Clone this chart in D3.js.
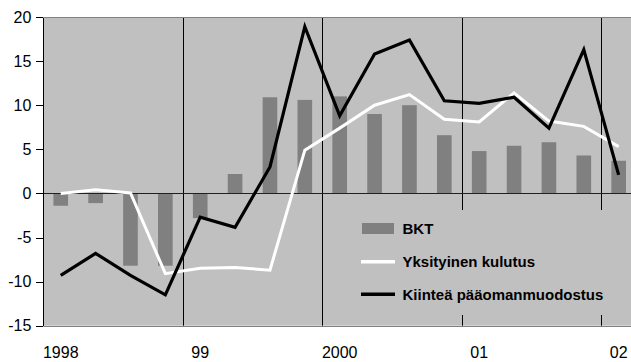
<!DOCTYPE html>
<html lang="fi">
    <head>
        <meta charset="utf-8">
        <script type="text/javascript" src="https://cdn.jsdelivr.net/npm/d3@7/dist/d3.min.js"></script>
        <style type="text/css">
        body{
          margin: 0;
          background: #ffffff;
        }
        svg{
          display: block;
          font-family: "Liberation Sans", Arial, sans-serif;
        }
        .axis path, .axis line{
          stroke: #000000;
          shape-rendering: crispEdges;
        }
        .axis text{
          font-size: 16px;
          fill: #000000;
        }
        .legend text{
          font-size: 15px;
          font-weight: bold;
        }
        </style>
    </head>
    <body>

        <script type="text/javascript">
          // Quarters 1998 Q1 - 2002 Q1
          var quarters = ["1998Q1", "1998Q2", "1998Q3", "1998Q4",
                          "1999Q1", "1999Q2", "1999Q3", "1999Q4",
                          "2000Q1", "2000Q2", "2000Q3", "2000Q4",
                          "2001Q1", "2001Q2", "2001Q3", "2001Q4",
                          "2002Q1"];

          // Year labels shown under the first quarter of each year
          var yearTicks = ["1998Q1", "1999Q1", "2000Q1", "2001Q1", "2002Q1"];
          var yearLabels = ["1998", "99", "2000", "01", "02"];

          // Series values (% change)
          var bkt = [-1.4, -1.1, -8.2, -8.2, -2.8, 2.2, 10.9, 10.6, 11.0, 9.0, 10.0, 6.6, 4.8, 5.4, 5.8, 4.3, 3.7];
          var kulutus = [0.0, 0.4, 0.05, -9.1, -8.5, -8.4, -8.7, 4.9, 7.4, 10.0, 11.2, 8.4, 8.1, 11.4, 8.2, 7.6, 5.3];
          var investoinnit = [-9.3, -6.8, -9.3, -11.5, -2.7, -3.85, 3.0, 18.9, 8.8, 15.8, 17.4, 10.5, 10.2, 10.9, 7.4, 16.3, 2.1];

          var yTicks = [-15, -10, -5, 0, 5, 10, 15, 20];
          var legendNames = ["BKT", "Yksityinen kulutus", "Kiinteä pääomanmuodostus"];

          // Size of the svg and the plot area
          var w = 631;
          var h = 362;
          var plotLeft = 43.3;
          var plotRight = 636.1;
          var plotTop = 17;
          var plotBottom = 325.7;

          var xScale = d3.scaleBand()
                         .domain(quarters)
                         .range([plotLeft, plotRight]);

          var yScale = d3.scaleLinear()
                         .domain([-15, 20])
                         .range([plotBottom, plotTop]);

          var svg = d3.select("body")
            .append("svg")
            .attr("width", w)
            .attr("height", h);

          // Gray plot background
          svg.append("rect")
             .attr("x", plotLeft)
             .attr("y", plotTop)
             .attr("width", plotRight - plotLeft)
             .attr("height", plotBottom - plotTop)
             .attr("fill", "#c0c0c0");

          // BKT bars
          var barWidth = xScale.bandwidth() * 0.42;
          svg.selectAll("rect.bar")
             .data(bkt)
             .enter()
             .append("rect")
             .attr("class", "bar")
             .attr("x", function(d, i) {
               return xScale(quarters[i]) + (xScale.bandwidth() - barWidth) / 2;
             })
             .attr("y", function(d) { return yScale(Math.max(d, 0)); })
             .attr("width", barWidth)
             .attr("height", function(d) { return Math.abs(yScale(d) - yScale(0)); })
             .attr("fill", "#808080");

          // Vertical lines at the start of every year
          svg.selectAll("line.year")
             .data(yearTicks.slice(1))
             .enter()
             .append("line")
             .attr("class", "year")
             .attr("x1", function(d) { return Math.round(xScale(d)) + 0.5; })
             .attr("x2", function(d) { return Math.round(xScale(d)) + 0.5; })
             .attr("y1", plotTop)
             .attr("y2", plotBottom)
             .attr("stroke", "#000000")
             .attr("stroke-width", 1);

          // Zero line
          svg.append("line")
             .attr("x1", plotLeft)
             .attr("x2", w)
             .attr("y1", Math.round(yScale(0)) + 0.5)
             .attr("y2", Math.round(yScale(0)) + 0.5)
             .attr("stroke", "#202020")
             .attr("stroke-width", 1);

          // Legend box covers the grid lines
          svg.append("rect")
             .attr("x", 335)
             .attr("y", 210)
             .attr("width", w - 335)
             .attr("height", 105)
             .attr("fill", "#c0c0c0");

          // Lines
          var line = d3.line()
            .x(function(d, i) { return xScale(quarters[i]) + xScale.bandwidth() / 2; })
            .y(function(d) { return yScale(d); });

          svg.append("path")
             .datum(kulutus)
             .attr("d", line)
             .attr("fill", "none")
             .attr("stroke", "#ffffff")
             .attr("stroke-width", 3);

          svg.append("path")
             .datum(investoinnit)
             .attr("d", line)
             .attr("fill", "none")
             .attr("stroke", "#000000")
             .attr("stroke-width", 3.2);

          // Top and bottom border of the plot
          svg.selectAll("line.border")
             .data([plotTop, plotBottom])
             .enter()
             .append("line")
             .attr("class", "border")
             .attr("x1", plotLeft)
             .attr("x2", w)
             .attr("y1", function(d) { return Math.round(d) + 0.5; })
             .attr("y2", function(d) { return Math.round(d) + 0.5; })
             .attr("stroke", "#808080")
             .attr("stroke-width", 1);

          // Y axis, plain hyphen as minus sign
          svg.append("g")
             .attr("class", "axis")
             .attr("transform", "translate(" + plotLeft + ",0)")
             .call(d3.axisLeft(yScale)
               .tickValues(yTicks)
               .tickSize(7)
               .tickPadding(5)
               .tickSizeOuter(0)
               .tickFormat(function(d) { return String(d); }))
             .call(function(g) { g.select(".domain").attr("stroke", "#000000"); });

          // X axis labels
          var xAxis = svg.append("g")
             .attr("class", "axis")
             .attr("transform", "translate(0," + plotBottom + ")")
             .call(d3.axisBottom(xScale)
               .tickValues(yearTicks)
               .tickSize(0)
               .tickPadding(21)
               .tickFormat(function(d, i) { return yearLabels[i]; }));
          xAxis.select(".domain").remove();

          // Legend
          var legend = svg.append("g").attr("class", "legend");
          var legendY = [228.5, 261.7, 294.3];

          legend.append("rect")
             .attr("x", 362)
             .attr("y", legendY[0] - 5.5)
             .attr("width", 32)
             .attr("height", 11)
             .attr("fill", "#808080");

          legend.selectAll("line")
             .data(["#ffffff", "#000000"])
             .enter()
             .append("line")
             .attr("x1", 361)
             .attr("x2", 395)
             .attr("y1", function(d, i) { return legendY[i + 1]; })
             .attr("y2", function(d, i) { return legendY[i + 1]; })
             .attr("stroke", function(d) { return d; })
             .attr("stroke-width", 3.5);

          legend.selectAll("text")
             .data(legendNames)
             .enter()
             .append("text")
             .attr("x", 402.5)
             .attr("y", function(d, i) { return legendY[i] + 5.3; })
             .text(function(d) { return d; });
        </script>
    </body>
</html>
